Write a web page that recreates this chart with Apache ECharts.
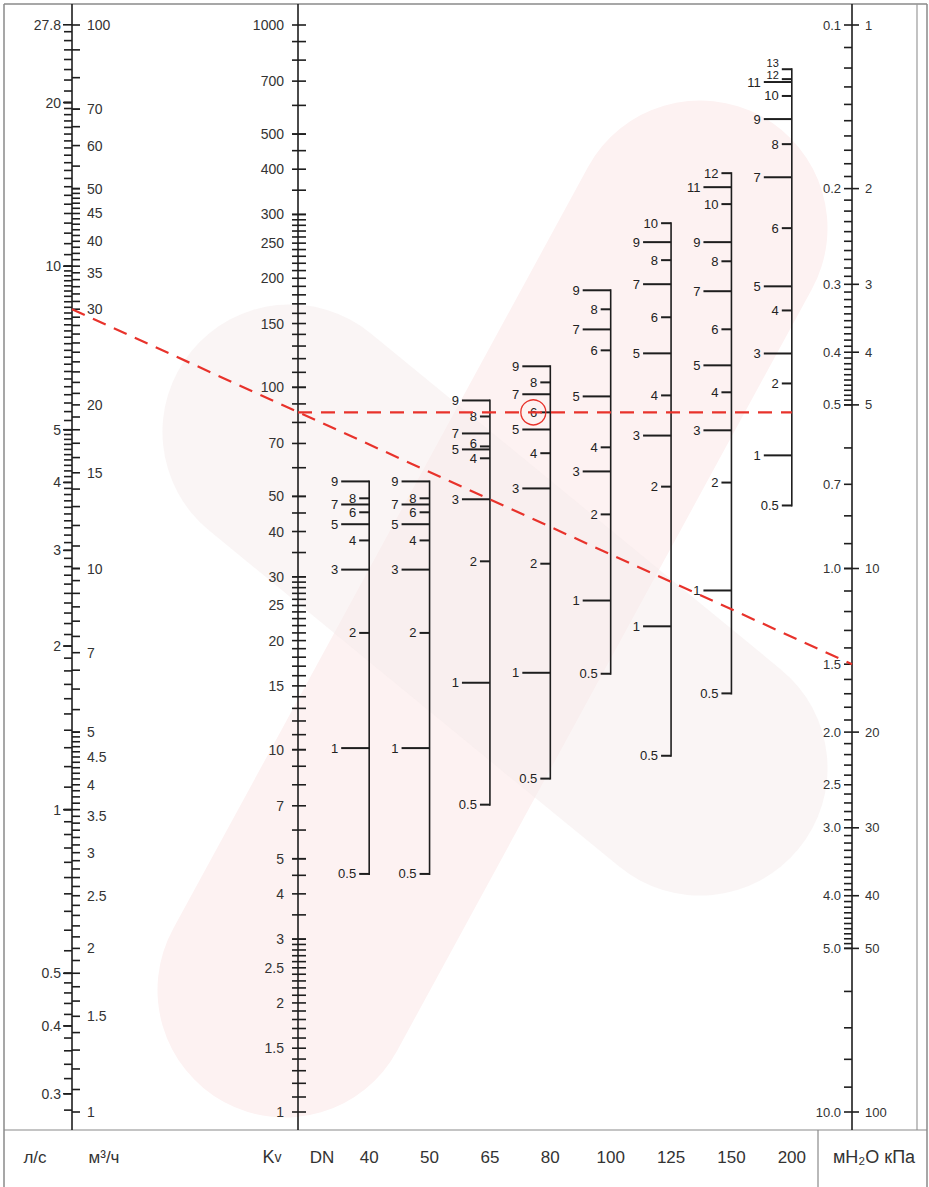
<!DOCTYPE html>
<html>
<head>
<meta charset="utf-8">
<script src="https://cdn.jsdelivr.net/npm/echarts@6/dist/echarts.min.js"></script>
<style>
  html, body { margin: 0; padding: 0; background: #fff; }
  #chart { width: 929px; height: 1187px; }
</style>
</head>
<body>
<div id="chart"></div>
<script>
// ---------- flow scale: l/s (left side) and m3/h (right side) ----------
const lpsLabels = [27.8, 20, 10, 5, 4, 3, 2, 1, 0.5, 0.4, 0.3];
const m3hLabels = [100, 70, 60, 50, 45, 40, 35, 30, 20, 15, 10, 7, 5, 4.5, 4, 3.5, 3, 2.5, 2, 1.5, 1];
// tick runs: [from, to, step]
const lpsTickRuns = [[0.28, 0.5, 0.02], [0.5, 1, 0.05], [1, 5, 0.1], [5, 10, 0.2], [10, 20, 0.5], [20, 27, 1]];
const m3hTickRuns = [[1, 5, 0.1], [5, 10, 0.5], [10, 50, 1], [50, 70, 5], [70, 100, 10]];

// ---------- Kv scale ----------
const kvLabels = [1000, 700, 500, 400, 300, 250, 200, 150, 100, 70, 50, 40, 30, 25, 20, 15, 10, 7, 5, 4, 3, 2.5, 2, 1.5, 1];
const kvTickRuns = [[1, 3, 0.1], [3, 5, 0.5], [5, 10, 1], [10, 30, 1], [30, 50, 5], [50, 100, 10],
                    [100, 300, 10], [300, 500, 50], [500, 1000, 100]];

// ---------- pressure drop scale: mH2O (left side) and kPa (right side) ----------
const mh2oLabels = [0.1, 0.2, 0.3, 0.4, 0.5, 0.7, 1.0, 1.5, 2.0, 2.5, 3.0, 4.0, 5.0, 10.0];
const kpaLabels = [1, 2, 3, 4, 5, 10, 20, 30, 40, 50, 100];
const mh2oTickRuns = [[0.1, 0.5, 0.01], [0.5, 1, 0.1], [1, 5, 0.1], [5, 10, 1]];

// ---------- balancing valve settings (turns) and their Kv, per DN ----------
const dnNames = ['40', '50', '65', '80', '100', '125', '150', '200'];
const dn40Turns = [0.5, 1, 2, 3, 4, 5, 6, 7, 8, 9];
const dn40Kv    = [4.54, 10.1, 21.0, 31.4, 37.8, 41.9, 45.2, 47.5, 49.4, 55.0];
const dn50Turns = [0.5, 1, 2, 3, 4, 5, 6, 7, 8, 9];
const dn50Kv    = [4.54, 10.1, 21.0, 31.4, 37.8, 41.9, 45.2, 47.5, 49.4, 55.0];
const dn65Turns = [0.5, 1, 2, 3, 4, 5, 6, 7, 8, 9];
const dn65Kv    = [7.05, 15.3, 33.1, 49.1, 63.7, 67.4, 68.7, 74.6, 83.1, 92.0];
const dn80Turns = [0.5, 1, 2, 3, 4, 5, 6, 7, 8, 9];
const dn80Kv    = [8.32, 16.3, 32.6, 52.6, 65.8, 76.5, 85.3, 95.7, 103.2, 114.3];
const dn100Turns = [0.5, 1, 2, 3, 4, 5, 6, 7, 8, 9];
const dn100Kv    = [16.2, 25.8, 44.6, 58.6, 68.3, 94.4, 126.5, 144.5, 164.2, 185.3];
const dn125Turns = [0.5, 1, 2, 3, 4, 5, 6, 7, 8, 9, 10];
const dn125Kv    = [9.62, 21.9, 53.2, 73.6, 95.0, 124.1, 156.1, 192.6, 224.4, 251.6, 283.8];
const dn150Turns = [0.5, 1, 2, 3, 4, 5, 6, 7, 8, 9, 10, 11, 12];
const dn150Kv    = [14.3, 27.5, 54.6, 76.1, 96.9, 115.0, 144.6, 184.2, 222.8, 251.6, 320.4, 356.8, 390];
const dn200Turns = [0.5, 1, 2, 3, 4, 5, 6, 7, 8, 9, 10, 11, 12, 13];
const dn200Kv    = [47.2, 64.9, 102.5, 124, 163, 190, 275, 380, 469, 550, 637, 696, 709, 755];

// ---------- worked example ----------
const exampleFlow = 30;      // m3/h
const exampleDrop = 15;      // kPa
const exampleDn = '80';
const exampleTurn = 6;

// ================= drawing =================
const FONT = '"Liberation Sans", Arial, sans-serif';
const INK = '#1e1e1e';
const TXT = '#333';
const RED = '#e8322b';
const TOP = 25, H = 1087;
const AX_FLOW = 72, AX_KV = 298, AX_P = 852;
const DN_LEFT = 339, DN_W = 483;
const FRAME_TOP = 4, FRAME_BASE = 1130;

function steps(run) {
  const [a, b, s] = run, out = [];
  const n = Math.round((b - a) / s);
  for (let i = 0; i <= n; i++) out.push(+(a + i * s).toFixed(4));
  return out;
}
const expand = runs => runs.flatMap(steps);

const dnColumns = [
  [dn40Turns, dn40Kv], [dn50Turns, dn50Kv], [dn65Turns, dn65Kv], [dn80Turns, dn80Kv],
  [dn100Turns, dn100Kv], [dn125Turns, dn125Kv], [dn150Turns, dn150Kv], [dn200Turns, dn200Kv]
];
const dnItems = [];
dnColumns.forEach(([turns, kv], c) => turns.forEach((t, i) => dnItems.push({ c, t, kv: kv[i] })));
const dnSpans = dnColumns.map(([turns, kv], c) => [c, Math.min(...kv), Math.max(...kv)]);
// crowded labels at the top of DN 200 and in DN 65 are lifted and set smaller
const labelNudge = { '200:13': -6, '200:12': -4, '65:6': -3 };
const labelSize = { '200:13': 11, '200:12': 11 };

const line = (x1, y1, x2, y2, w, c, z) => ({ type: 'line', shape: { x1, y1, x2, y2 }, style: { stroke: c || INK, lineWidth: w || 1.5 }, z: z || 3 });
const text = (x, y, t, size, align, extra) => ({
  type: 'text', x, y, style: Object.assign({ text: t, fill: TXT, font: size + 'px ' + FONT, align: align || 'center', verticalAlign: 'middle' }, extra || {})
});

// a scale drawn on a single-column grid: ticks [x1,x2] relative to the spine, labels at dx
function tickSeries(grid, values, toAxis, x1, x2, width) {
  return {
    type: 'custom', xAxisIndex: grid, yAxisIndex: grid, silent: true,
    data: values.map(v => [0, toAxis(v)]),
    renderItem(params, api) {
      const p = api.coord([0, api.value(1)]);
      return { type: 'line', shape: { x1: p[0] + x1, y1: p[1], x2: p[0] + x2, y2: p[1] }, style: { stroke: INK, lineWidth: width || 1.6 } };
    }
  };
}
function labelSeries(grid, values, toAxis, fmt, dx, align, size) {
  return {
    type: 'custom', xAxisIndex: grid, yAxisIndex: grid, silent: true,
    data: values.map(v => [0, toAxis(v)]),
    renderItem(params, api) {
      const p = api.coord([0, api.value(1)]);
      return text(p[0] + dx, p[1], fmt(values[params.dataIndex]), size, align);
    }
  };
}

const same = v => v;
const lpsToM3h = v => v * 3.6;
const mh2oToKpa = v => v * 10;

const grids = [
  { left: AX_FLOW, top: TOP, height: H, width: 10 },
  { left: AX_KV, top: TOP, height: H, width: 10 },
  { left: AX_P, top: TOP, height: H, width: 10 },
  { left: DN_LEFT, top: TOP, height: H, width: DN_W }
];
const xAxes = [0, 1, 2].map(i => ({ gridIndex: i, type: 'value', min: 0, max: 1, show: false }));
xAxes.push({
  gridIndex: 3, type: 'category', data: dnNames, boundaryGap: true,
  axisLine: { show: false }, axisTick: { show: false },
  axisLabel: { margin: 37, fontSize: 17, color: TXT, fontFamily: FONT }
});
const yAxes = [
  { gridIndex: 0, type: 'log', min: 1, max: 100, show: false },
  { gridIndex: 1, type: 'log', min: 1, max: 1000, show: false },
  { gridIndex: 2, type: 'log', min: 1, max: 100, inverse: true, show: false },
  { gridIndex: 3, type: 'log', min: 1, max: 1000, show: false }
];

const series = [
  tickSeries(0, expand(lpsTickRuns), lpsToM3h, -8, 0),
  tickSeries(0, lpsLabels, lpsToM3h, -9, 0),
  tickSeries(0, expand(m3hTickRuns), same, 0, 8),
  labelSeries(0, lpsLabels, lpsToM3h, String, -11, 'right', 14),
  labelSeries(0, m3hLabels, same, String, 15, 'left', 14),

  tickSeries(1, expand(kvTickRuns), same, -6, 8),
  labelSeries(1, kvLabels, same, String, -14, 'right', 14),

  tickSeries(2, expand(mh2oTickRuns), mh2oToKpa, -8, 0),
  tickSeries(2, kpaLabels, same, 0, 7),
  labelSeries(2, mh2oLabels, mh2oToKpa, v => v.toFixed(1), -11, 'right', 13),
  labelSeries(2, kpaLabels, same, String, 13, 'left', 13),

  // DN spines
  {
    type: 'custom', xAxisIndex: 3, yAxisIndex: 3, silent: true,
    data: dnSpans,
    renderItem(params, api) {
      const a = api.coord([api.value(0), api.value(2)]);
      const b = api.coord([api.value(0), api.value(1)]);
      return { type: 'line', shape: { x1: a[0], y1: a[1] - 1, x2: b[0], y2: b[1] + 1 }, style: { stroke: INK, lineWidth: 1.6 } };
    }
  },
  // DN setting ticks and their turn numbers
  {
    type: 'custom', xAxisIndex: 3, yAxisIndex: 3, silent: true,
    data: dnItems.map(d => [d.c, d.kv]),
    renderItem(params, api) {
      const it = dnItems[params.dataIndex];
      const p = api.coord([api.value(0), api.value(1)]);
      const isLong = Number.isInteger(it.t) && it.t % 2 === 1 && it.t !== 13;
      const len = isLong ? 28 : 10;
      const key = dnNames[it.c] + ':' + it.t;
      return {
        type: 'group', children: [
          { type: 'line', shape: { x1: p[0] - len, y1: p[1], x2: p[0], y2: p[1] }, style: { stroke: INK, lineWidth: 2 } },
          text(p[0] - len - 3, p[1] + (labelNudge[key] || 0), String(it.t), labelSize[key] || 13, 'right', { fill: '#222' })
        ]
      };
    }
  },
  // marked setting of the worked example
  {
    type: 'custom', xAxisIndex: 3, yAxisIndex: 3, silent: true, z: 6,
    data: [[dnNames.indexOf(exampleDn), dnColumns[dnNames.indexOf(exampleDn)][1][dnColumns[dnNames.indexOf(exampleDn)][0].indexOf(exampleTurn)]]],
    renderItem(params, api) {
      const p = api.coord([api.value(0), api.value(1)]);
      return { type: 'circle', shape: { cx: p[0] - 17, cy: p[1], r: 12.5 }, style: { fill: 'none', stroke: RED, lineWidth: 1.3 } };
    }
  }
];

const chart = echarts.init(document.getElementById('chart'), null, { renderer: 'svg' });

// background emblem, frame, scale spines and captions
const decor = [
  { type: 'line', shape: { x1: 285, y1: 990, x2: 700, y2: 228 }, style: { stroke: '#fdf2f2', lineWidth: 255, lineCap: 'round' }, z: 0, silent: true },
  { type: 'line', shape: { x1: 290, y1: 432, x2: 700, y2: 768 }, style: { stroke: 'rgba(246,236,236,0.5)', lineWidth: 255, lineCap: 'round' }, z: 0, silent: true },

  line(4, FRAME_TOP, 927, FRAME_TOP, 1.5, '#8a8a8a'),
  line(4, FRAME_TOP, 4, 1187, 1.5, '#8a8a8a'),
  line(927, FRAME_TOP, 927, 1187, 1.5, '#8a8a8a'),
  line(917, FRAME_TOP, 917, FRAME_BASE, 1.2, '#9a9a9a'),
  line(4, FRAME_BASE, 927, FRAME_BASE, 1.2, '#8a8a8a'),
  line(818, FRAME_BASE, 818, 1187, 1.2, '#8a8a8a'),

  line(AX_FLOW, FRAME_TOP, AX_FLOW, FRAME_BASE, 1.6),
  line(AX_KV, FRAME_TOP, AX_KV, FRAME_BASE, 1.6),
  line(AX_P, FRAME_TOP, AX_P, FRAME_BASE, 1.6),

  text(35, 1157, 'л/с', 17),
  text(104, 1157, 'м³/ч', 17),
  { type: 'text', x: 272, y: 1157, style: { text: '{k|K}{v|v}', align: 'center', verticalAlign: 'middle',
      rich: { k: { fontSize: 18, fontFamily: FONT, fill: TXT }, v: { fontSize: 14, fontFamily: FONT, fill: TXT } } } },
  text(322, 1157, 'DN', 17),
  text(874, 1157, 'мH₂O кПа', 18)
];

chart.setOption({
  animation: false,
  backgroundColor: '#fff',
  grid: grids, xAxis: xAxes, yAxis: yAxes, series,
  graphic: { elements: decor }
});

// worked example: flow -> pressure drop straight edge, and the Kv level carried to the valve scales
const exampleKv = dn80Kv[dn80Turns.indexOf(exampleTurn)];
const pFlow = chart.convertToPixel({ gridIndex: 0 }, [0, exampleFlow]);
const pDrop = chart.convertToPixel({ gridIndex: 2 }, [0, exampleDrop]);
const pKv = chart.convertToPixel({ gridIndex: 1 }, [0, exampleKv]);
const pLast = chart.convertToPixel({ gridIndex: 3 }, [dnNames.length - 1, exampleKv]);
const dash = { stroke: RED, lineWidth: 2.2, lineDash: [14, 9] };
chart.setOption({
  graphic: {
    elements: decor.concat([
      { type: 'line', z: 8, shape: { x1: pFlow[0], y1: pFlow[1], x2: pDrop[0], y2: pDrop[1] }, style: dash },
      { type: 'line', z: 8, shape: { x1: pKv[0], y1: pKv[1], x2: pLast[0], y2: pLast[1] }, style: dash }
    ])
  }
});
</script>
</body>
</html>
